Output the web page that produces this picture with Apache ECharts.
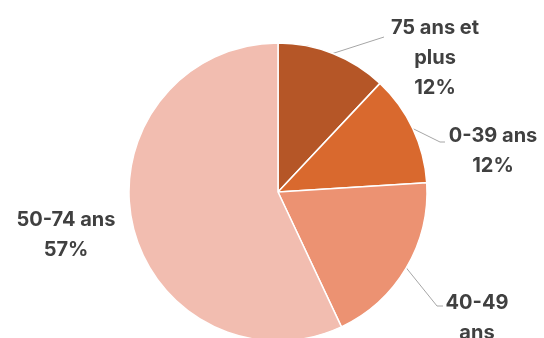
<!DOCTYPE html>
<html lang="fr">
<head>
    <meta charset="utf-8" />
    <title>Répartition par âge</title>
    <script src="https://cdn.jsdelivr.net/npm/echarts@6/dist/echarts.min.js"></script>
    <style>
        html, body { margin: 0; padding: 0; background: #fff; }
        #chart { width: 544px; height: 338px; }
    </style>
</head>
<body>
<div id="chart"></div>
<script>
    // données
    var categories = ['75 ans et plus', '0-39 ans', '40-49 ans', '50-74 ans'];
    var values = [12, 12, 19, 57];
    var labelTexts = ['75 ans et\nplus', '0-39 ans', '40-49\nans', '50-74 ans'];
    var colors = ['#b55627', '#d9692e', '#ec9272', '#f2bdb0'];

    // positions des étiquettes (centre du bloc de texte) et bout des traits de rappel
    var labelPos = [[435, 58], [493, 151], [477, 333], [66, 235]];
    var lineEnds = [
        [[384, 37]],
        [[440, 142], [445, 142]],
        [[437, 306], [443, 306]],
        null
    ];

    var seriesData = [];
    for (var i = 0; i < categories.length; i++) {
        seriesData.push({
            name: categories[i],
            value: values[i],
            itemStyle: { color: colors[i] },
            labelLine: { show: lineEnds[i] != null }
        });
    }

    var myChart = echarts.init(document.getElementById('chart'));
    var option = {
        animation: false,
        series: [{
            type: 'pie',
            center: [278, 192],
            radius: 149,
            startAngle: 90,
            clockwise: true,
            data: seriesData,
            itemStyle: { borderColor: '#fff', borderWidth: 1.5 },
            label: {
                show: true,
                formatter: function (p) {
                    return labelTexts[p.dataIndex] + '\n' + p.value + '%';
                },
                fontFamily: 'Inter',
                fontWeight: 'bold',
                fontSize: 20,
                lineHeight: 30,
                color: '#404040',
                align: 'center',
                overflow: 'none'
            },
            labelLine: {
                show: true,
                length: 15,
                length2: 10,
                lineStyle: { color: '#a6a6a6', width: 1 }
            },
            labelLayout: function (p) {
                var pos = labelPos[p.dataIndex];
                var res = {
                    x: pos[0],
                    y: pos[1],
                    align: 'center',
                    verticalAlign: 'middle'
                };
                var ends = lineEnds[p.dataIndex];
                if (ends && p.labelLinePoints) {
                    res.labelLinePoints = [p.labelLinePoints[0]].concat(ends);
                }
                return res;
            }
        }]
    };
    myChart.setOption(option);
</script>
</body>
</html>
